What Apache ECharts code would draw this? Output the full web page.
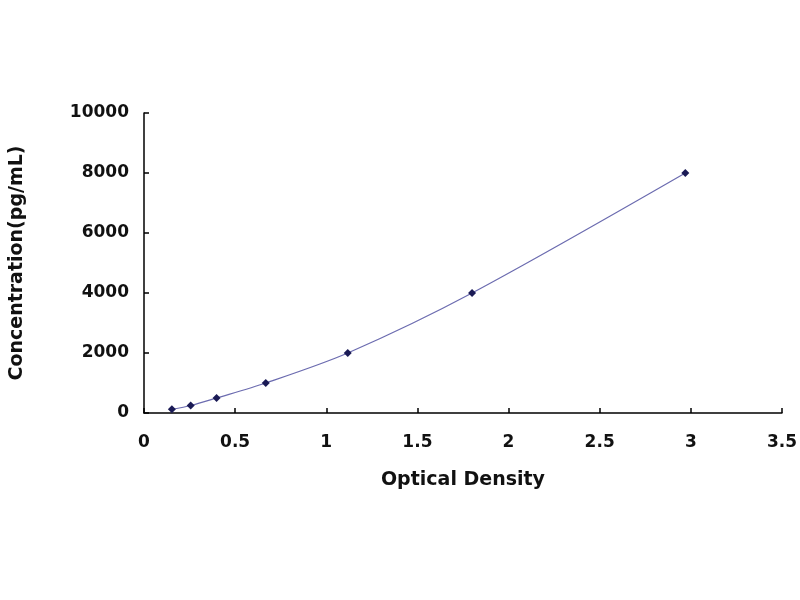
<!DOCTYPE html>
<html>
<head>
<meta charset="utf-8">
<script src="https://cdn.jsdelivr.net/npm/echarts@6/dist/echarts.min.js"></script>
<style>
html,body{margin:0;padding:0;background:#fff;}
#show_char{width:800px;height:600px;}
</style>
</head>
<body>
<div id="show_char"></div>
<script>
// standard curve points
var odValues = [0.153, 0.256, 0.398, 0.668, 1.118, 1.80, 2.97];
var concValues = [125, 250, 500, 1000, 2000, 4000, 8000];
var xTicks = [0, 0.5, 1, 1.5, 2, 2.5, 3, 3.5];
var yTicks = [0, 2000, 4000, 6000, 8000, 10000];

var pointData = [];
for (var i in odValues) {
    pointData.push([odValues[i], concValues[i]]);
}

var labelFont = {
    color: '#111',
    fontFamily: 'DejaVu Sans',
    fontWeight: 'bold',
    fontSize: 17
};
var titleFont = {
    color: '#111',
    fontFamily: 'DejaVu Sans',
    fontWeight: 'bold',
    fontSize: 19
};

var option = {
    animation: false,
    backgroundColor: '#fff',
    grid: {
        left: 141,
        right: 15,
        top: 113,
        bottom: 187
    },
    xAxis: {
        type: 'value',
        min: xTicks[0],
        max: xTicks[xTicks.length - 1],
        interval: 0.5,
        name: 'Optical Density',
        nameLocation: 'middle',
        nameGap: 58,
        nameTextStyle: titleFont,
        axisLine: {lineStyle: {color: '#000', width: 1.5}},
        axisTick: {inside: true, length: 5, lineStyle: {color: '#000', width: 1.5}},
        axisLabel: Object.assign({margin: 21, formatter: function (v) { return String(v); }}, labelFont),
        splitLine: {show: false}
    },
    yAxis: {
        type: 'value',
        min: yTicks[0],
        max: yTicks[yTicks.length - 1],
        interval: 2000,
        name: 'Concentration(pg/mL)',
        nameLocation: 'middle',
        nameGap: 117,
        nameTextStyle: titleFont,
        axisLine: {show: true, lineStyle: {color: '#000', width: 1.5}},
        axisTick: {show: true, inside: true, length: 5, lineStyle: {color: '#000', width: 1.5}},
        axisLabel: Object.assign({margin: 15, formatter: function (v) { return String(v); }}, labelFont),
        splitLine: {show: false}
    },
    series: [
        {
            type: 'line',
            smooth: 0.3,
            symbol: 'diamond',
            symbolSize: 8,
            itemStyle: {color: '#1a1a55'},
            lineStyle: {color: '#6c6cb0', width: 1.2},
            data: pointData
        }
    ]
};

var myChart = echarts.init(document.getElementById('show_char'));
myChart.setOption(option);
</script>
</body>
</html>
